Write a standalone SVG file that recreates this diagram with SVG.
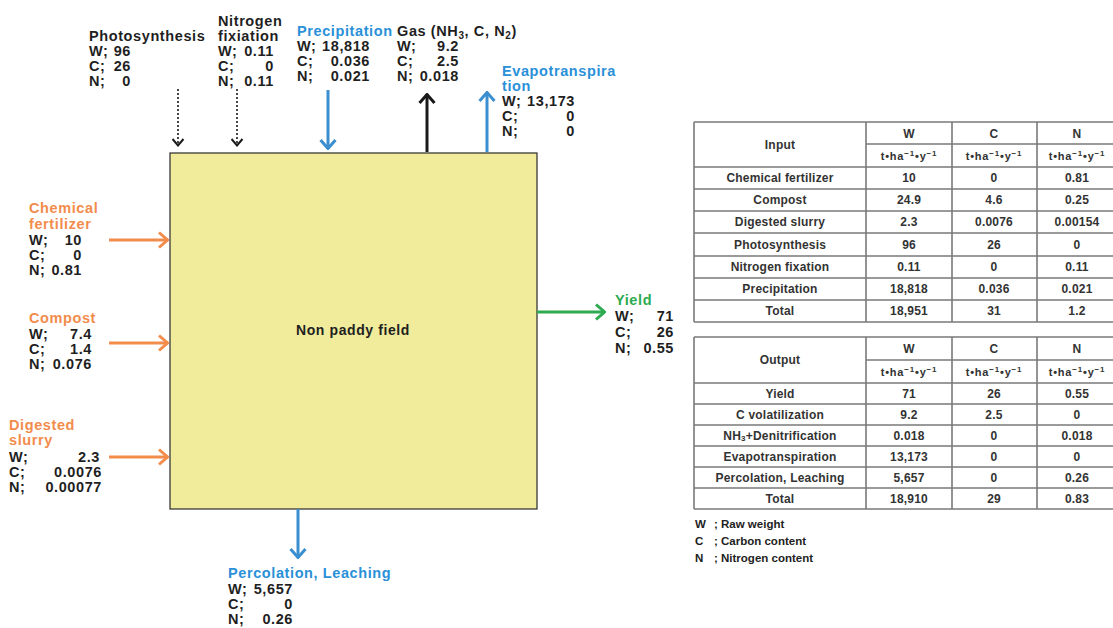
<svg xmlns="http://www.w3.org/2000/svg" width="1113" height="628" viewBox="0 0 1113 628">
<style>
  text { font-family: "Liberation Sans", Arial, sans-serif; font-weight: bold; }
  .lbl { font-size: 14.5px; letter-spacing: 0.6px; fill: #1f1f1f; }
  .blue { fill: #2a90d8; }
  .orange { fill: #f28c4c; }
  .green { fill: #2eaa50; }
  .end { text-anchor: end; }
  .tb { font-size: 12px; fill: #333; text-anchor: middle; letter-spacing: 0.2px; }
  .unit { font-size: 11px; fill: #333; text-anchor: middle; letter-spacing: 0.8px; }
  .sup { font-size: 8px; }
  .leg { font-size: 11.5px; fill: #222; }
  .grid { stroke: #7a7a7a; stroke-width: 1.6; fill: none; }
  .c-or { stroke: #f28c4c; stroke-width: 3; fill: none; }
  .c-bl { stroke: #3a8fd0; stroke-width: 3; fill: none; }
  .c-gr { stroke: #2eaa50; stroke-width: 3; fill: none; }
  .c-bk { stroke: #1a1a1a; stroke-width: 3; fill: none; }
  .c-dot { stroke: #1a1a1a; stroke-width: 1.6; stroke-dasharray: 2 2; fill: none; }
</style>
<defs>
  <marker id="m-or" viewBox="0 0 12 18" refX="11" refY="9" markerWidth="12" markerHeight="18" markerUnits="userSpaceOnUse" orient="auto"><path d="M2,1.5 L10.5,9 L2,16.5" fill="none" stroke="#f28c4c" stroke-width="3"/></marker>
  <marker id="m-bl" viewBox="0 0 12 18" refX="11" refY="9" markerWidth="12" markerHeight="18" markerUnits="userSpaceOnUse" orient="auto"><path d="M2,1.5 L10.5,9 L2,16.5" fill="none" stroke="#3a8fd0" stroke-width="3"/></marker>
  <marker id="m-gr" viewBox="0 0 12 18" refX="11" refY="9" markerWidth="12" markerHeight="18" markerUnits="userSpaceOnUse" orient="auto"><path d="M2,1.5 L10.5,9 L2,16.5" fill="none" stroke="#2eaa50" stroke-width="3"/></marker>
  <marker id="m-bk" viewBox="0 0 12 18" refX="11" refY="9" markerWidth="12" markerHeight="18" markerUnits="userSpaceOnUse" orient="auto"><path d="M2,1.5 L10.5,9 L2,16.5" fill="none" stroke="#1a1a1a" stroke-width="3"/></marker>
  <marker id="m-dot" viewBox="0 0 9 13" refX="8" refY="6.5" markerWidth="9" markerHeight="13" markerUnits="userSpaceOnUse" orient="auto"><path d="M1,1 L7.5,6.5 L1,12" fill="none" stroke="#1a1a1a" stroke-width="2"/></marker>
</defs>
<rect width="1113" height="628" fill="#ffffff"/>

<g id="field">
  <rect x="170" y="153" width="367" height="356" fill="#f0ec9c" stroke="#2a2a2a" stroke-width="1.2"/>
  <text x="353" y="335" class="lbl" text-anchor="middle" style="font-size:14px">Non paddy field</text>
</g>

<g id="connectors">
  <line x1="178" y1="89" x2="178" y2="146" class="c-dot" marker-end="url(#m-dot)"/>
  <line x1="237" y1="89" x2="237" y2="146" class="c-dot" marker-end="url(#m-dot)"/>
  <line x1="328" y1="90" x2="328" y2="149" class="c-bl" marker-end="url(#m-bl)"/>
  <line x1="427" y1="152" x2="427" y2="94" class="c-bk" marker-end="url(#m-bk)"/>
  <line x1="487" y1="152" x2="487" y2="92" class="c-bl" marker-end="url(#m-bl)"/>
  <line x1="109" y1="240" x2="168" y2="240" class="c-or" marker-end="url(#m-or)"/>
  <line x1="109" y1="343" x2="168" y2="343" class="c-or" marker-end="url(#m-or)"/>
  <line x1="109" y1="457" x2="168" y2="457" class="c-or" marker-end="url(#m-or)"/>
  <line x1="537" y1="312" x2="605" y2="312" class="c-gr" marker-end="url(#m-gr)"/>
  <line x1="298" y1="509" x2="298" y2="558" class="c-bl" marker-end="url(#m-bl)"/>
</g>

<g id="photosynthesis" class="lbl">
  <text x="89" y="41">Photosynthesis</text>
  <text y="56"><tspan x="89">W;</tspan><tspan x="131" class="end">96</tspan></text>
  <text y="71"><tspan x="89">C;</tspan><tspan x="131" class="end">26</tspan></text>
  <text y="86"><tspan x="89">N;</tspan><tspan x="131" class="end">0</tspan></text>
</g>

<g id="nitrogen-fixation" class="lbl">
  <text x="218" y="26">Nitrogen</text>
  <text x="218" y="41">fixiation</text>
  <text y="56"><tspan x="218">W;</tspan><tspan x="274" class="end">0.11</tspan></text>
  <text y="71"><tspan x="218">C;</tspan><tspan x="274" class="end">0</tspan></text>
  <text y="86"><tspan x="218">N;</tspan><tspan x="274" class="end">0.11</tspan></text>
</g>

<g id="precipitation" class="lbl">
  <text x="297" y="36" class="blue">Precipitation</text>
  <text y="51"><tspan x="297">W;</tspan><tspan x="370" class="end">18,818</tspan></text>
  <text y="66"><tspan x="297">C;</tspan><tspan x="370" class="end">0.036</tspan></text>
  <text y="81"><tspan x="297">N;</tspan><tspan x="370" class="end">0.021</tspan></text>
</g>

<g id="gas" class="lbl">
  <text x="397" y="36">Gas (NH<tspan font-size="10" dy="3">3</tspan><tspan dy="-3">, C, N</tspan><tspan font-size="10" dy="3">2</tspan><tspan dy="-3">)</tspan></text>
  <text y="51"><tspan x="397">W;</tspan><tspan x="459" class="end">9.2</tspan></text>
  <text y="66"><tspan x="397">C;</tspan><tspan x="459" class="end">2.5</tspan></text>
  <text y="81"><tspan x="397">N;</tspan><tspan x="459" class="end">0.018</tspan></text>
</g>

<g id="evapotranspiration" class="lbl">
  <text x="502" y="76" class="blue">Evapotranspira</text>
  <text x="502" y="91" class="blue">tion</text>
  <text y="106"><tspan x="502">W;</tspan><tspan x="575" class="end">13,173</tspan></text>
  <text y="121"><tspan x="502">C;</tspan><tspan x="575" class="end">0</tspan></text>
  <text y="136"><tspan x="502">N;</tspan><tspan x="575" class="end">0</tspan></text>
</g>

<g id="chemical-fertilizer" class="lbl">
  <text x="29" y="213" class="orange">Chemical</text>
  <text x="29" y="229" class="orange">fertilizer</text>
  <text y="245"><tspan x="29">W;</tspan><tspan x="82" class="end">10</tspan></text>
  <text y="260"><tspan x="29">C;</tspan><tspan x="82" class="end">0</tspan></text>
  <text y="275"><tspan x="29">N;</tspan><tspan x="82" class="end">0.81</tspan></text>
</g>

<g id="compost" class="lbl">
  <text x="29" y="323" class="orange">Compost</text>
  <text y="339"><tspan x="29">W;</tspan><tspan x="92" class="end">7.4</tspan></text>
  <text y="354"><tspan x="29">C;</tspan><tspan x="92" class="end">1.4</tspan></text>
  <text y="369"><tspan x="29">N;</tspan><tspan x="92" class="end">0.076</tspan></text>
</g>

<g id="digested-slurry" class="lbl">
  <text x="9" y="430" class="orange">Digested</text>
  <text x="9" y="445" class="orange">slurry</text>
  <text y="462"><tspan x="9">W;</tspan><tspan x="100" class="end">2.3</tspan></text>
  <text y="477"><tspan x="9">C;</tspan><tspan x="102" class="end">0.0076</tspan></text>
  <text y="492"><tspan x="9">N;</tspan><tspan x="102" class="end">0.00077</tspan></text>
</g>

<g id="yield" class="lbl">
  <text x="615" y="305" class="green">Yield</text>
  <text y="321"><tspan x="615">W;</tspan><tspan x="674" class="end">71</tspan></text>
  <text y="337"><tspan x="615">C;</tspan><tspan x="674" class="end">26</tspan></text>
  <text y="353"><tspan x="615">N;</tspan><tspan x="674" class="end">0.55</tspan></text>
</g>

<g id="percolation" class="lbl">
  <text x="228" y="578" class="blue">Percolation, Leaching</text>
  <text y="594"><tspan x="228">W;</tspan><tspan x="293" class="end">5,657</tspan></text>
  <text y="609"><tspan x="228">C;</tspan><tspan x="293" class="end">0</tspan></text>
  <text y="624"><tspan x="228">N;</tspan><tspan x="293" class="end">0.26</tspan></text>
</g>

<g id="input-table">
  <rect x="694" y="122" width="430" height="200" fill="#ffffff"/>
  <path class="grid" d="M694,122 H1125 M866,144 H1125 M694,167 H1125 M694,189 H1125 M694,211 H1125 M694,233 H1125 M694,256 H1125 M694,278 H1125 M694,300 H1125 M694,322 H1125 M694,122 V322 M866,122 V322 M952,122 V322 M1037,122 V322"/>
  <text x="780" y="149" class="tb">Input</text>
  <text x="909" y="138" class="tb">W</text>
  <text x="994" y="138" class="tb">C</text>
  <text x="1077" y="138" class="tb">N</text>
  <text x="909" y="160" class="unit">t•ha<tspan class="sup" dy="-4">−1</tspan><tspan dy="4">•y</tspan><tspan class="sup" dy="-4">−1</tspan></text>
  <text x="994" y="160" class="unit">t•ha<tspan class="sup" dy="-4">−1</tspan><tspan dy="4">•y</tspan><tspan class="sup" dy="-4">−1</tspan></text>
  <text x="1077" y="160" class="unit">t•ha<tspan class="sup" dy="-4">−1</tspan><tspan dy="4">•y</tspan><tspan class="sup" dy="-4">−1</tspan></text>
  <text x="780" y="182" class="tb">Chemical fertilizer</text><text x="909" y="182" class="tb">10</text><text x="994" y="182" class="tb">0</text><text x="1077" y="182" class="tb">0.81</text>
  <text x="780" y="204" class="tb">Compost</text><text x="909" y="204" class="tb">24.9</text><text x="994" y="204" class="tb">4.6</text><text x="1077" y="204" class="tb">0.25</text>
  <text x="780" y="226" class="tb">Digested slurry</text><text x="909" y="226" class="tb">2.3</text><text x="994" y="226" class="tb">0.0076</text><text x="1077" y="226" class="tb">0.00154</text>
  <text x="780" y="249" class="tb">Photosynthesis</text><text x="909" y="249" class="tb">96</text><text x="994" y="249" class="tb">26</text><text x="1077" y="249" class="tb">0</text>
  <text x="780" y="271" class="tb">Nitrogen fixation</text><text x="909" y="271" class="tb">0.11</text><text x="994" y="271" class="tb">0</text><text x="1077" y="271" class="tb">0.11</text>
  <text x="780" y="293" class="tb">Precipitation</text><text x="909" y="293" class="tb">18,818</text><text x="994" y="293" class="tb">0.036</text><text x="1077" y="293" class="tb">0.021</text>
  <text x="780" y="315" class="tb">Total</text><text x="909" y="315" class="tb">18,951</text><text x="994" y="315" class="tb">31</text><text x="1077" y="315" class="tb">1.2</text>
</g>

<g id="output-table">
  <rect x="694" y="337" width="430" height="172" fill="#ffffff"/>
  <path class="grid" d="M694,337 H1125 M866,360 H1125 M694,383 H1125 M694,404 H1125 M694,425 H1125 M694,446 H1125 M694,467 H1125 M694,488 H1125 M694,509 H1125 M694,337 V509 M866,337 V509 M952,337 V509 M1037,337 V509"/>
  <text x="780" y="364" class="tb">Output</text>
  <text x="909" y="353" class="tb">W</text>
  <text x="994" y="353" class="tb">C</text>
  <text x="1077" y="353" class="tb">N</text>
  <text x="909" y="376" class="unit">t•ha<tspan class="sup" dy="-4">−1</tspan><tspan dy="4">•y</tspan><tspan class="sup" dy="-4">−1</tspan></text>
  <text x="994" y="376" class="unit">t•ha<tspan class="sup" dy="-4">−1</tspan><tspan dy="4">•y</tspan><tspan class="sup" dy="-4">−1</tspan></text>
  <text x="1077" y="376" class="unit">t•ha<tspan class="sup" dy="-4">−1</tspan><tspan dy="4">•y</tspan><tspan class="sup" dy="-4">−1</tspan></text>
  <text x="780" y="398" class="tb">Yield</text><text x="909" y="398" class="tb">71</text><text x="994" y="398" class="tb">26</text><text x="1077" y="398" class="tb">0.55</text>
  <text x="780" y="419" class="tb">C volatilization</text><text x="909" y="419" class="tb">9.2</text><text x="994" y="419" class="tb">2.5</text><text x="1077" y="419" class="tb">0</text>
  <text x="780" y="440" class="tb">NH<tspan font-size="8" dy="1">3</tspan><tspan dy="-1">+Denitrification</tspan></text><text x="909" y="440" class="tb">0.018</text><text x="994" y="440" class="tb">0</text><text x="1077" y="440" class="tb">0.018</text>
  <text x="780" y="461" class="tb">Evapotranspiration</text><text x="909" y="461" class="tb">13,173</text><text x="994" y="461" class="tb">0</text><text x="1077" y="461" class="tb">0</text>
  <text x="780" y="482" class="tb">Percolation, Leaching</text><text x="909" y="482" class="tb">5,657</text><text x="994" y="482" class="tb">0</text><text x="1077" y="482" class="tb">0.26</text>
  <text x="780" y="503" class="tb">Total</text><text x="909" y="503" class="tb">18,910</text><text x="994" y="503" class="tb">29</text><text x="1077" y="503" class="tb">0.83</text>
</g>

<g id="legend" class="leg">
  <text x="695" y="528">W</text><text x="714" y="528">; Raw weight</text>
  <text x="695" y="545">C</text><text x="714" y="545">; Carbon content</text>
  <text x="695" y="562">N</text><text x="714" y="562">; Nitrogen content</text>
</g>
</svg>
